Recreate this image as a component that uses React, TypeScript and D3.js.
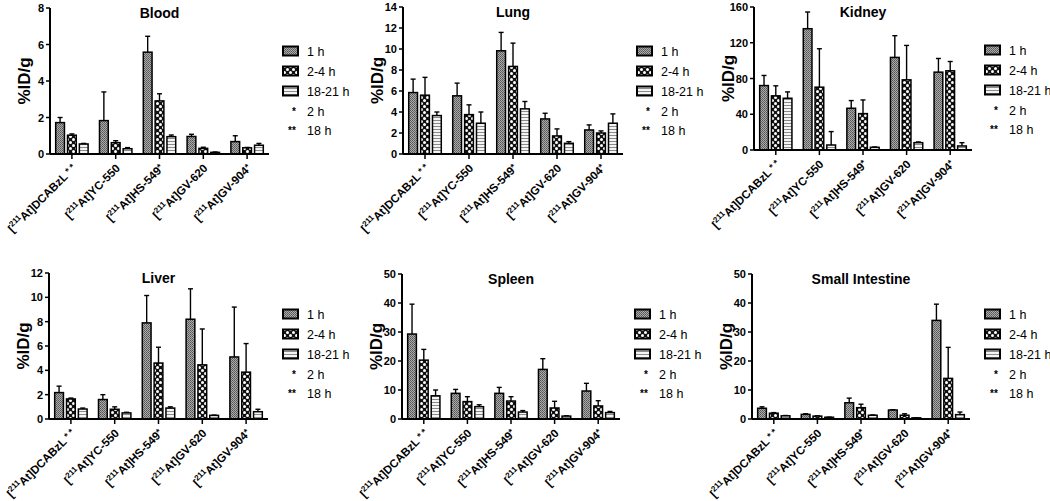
import React from "react";
import * as d3 from "d3";

// compounds on the x axis
const compounds = ["DCABzL", "YC-550", "HS-549", "GV-620", "GV-904"];
const marks = [" * *", "", "*", "", "*"];
const series = ["1 h", "2-4 h", "18-21 h"];

// %ID/g, mean and SD per series (order = compounds)
const bloodMean = [[1.72, 1.83, 5.58, 0.96, 0.68], [1.03, 0.62, 2.91, 0.31, 0.34], [0.55, 0.29, 0.95, 0.09, 0.48]];
const bloodSd = [[0.28, 1.57, 0.87, 0.12, 0.32], [0.07, 0.11, 0.39, 0.06, 0.02], [0.03, 0.06, 0.09, 0.02, 0.1]];
const lungMean = [[5.85, 5.54, 9.83, 3.34, 2.29], [5.6, 3.75, 8.34, 1.72, 2.0], [3.66, 2.93, 4.3, 1.02, 2.93]];
const lungSd = [[1.28, 1.21, 1.75, 0.54, 0.48], [1.7, 0.93, 2.22, 0.67, 0.2], [0.34, 1.07, 0.7, 0.16, 0.89]];
const kidneyMean = [[72.1, 135.7, 46.7, 103.6, 87.1], [60.6, 70.3, 40.7, 78.5, 88.6], [57.9, 5.6, 3.0, 8.2, 4.5]];
const kidneySd = [[11.3, 18.7, 8.6, 24.3, 15.3], [11.2, 43, 15.3, 38.5, 10.4], [7.1, 15, 0.4, 0.8, 3.7]];
const liverMean = [[2.17, 1.6, 7.9, 8.2, 5.1], [1.65, 0.8, 4.6, 4.45, 3.85], [0.82, 0.5, 0.9, 0.3, 0.6]];
const liverSd = [[0.53, 0.4, 2.25, 2.5, 4.1], [0.07, 0.2, 1.3, 2.95, 2.35], [0.08, 0.05, 0.1, 0.02, 0.2]];
const spleenMean = [[29.3, 8.85, 8.85, 17.1, 9.65], [20.3, 6.0, 6.2, 3.8, 4.5], [8.0, 4.25, 2.4, 1.0, 2.2]];
const spleenSd = [[10.3, 1.35, 2.05, 3.7, 2.65], [3.7, 1.7, 1.5, 2.3, 1.8], [2.0, 0.65, 0.5, 0.1, 0.4]];
const intestineMean = [[3.7, 1.6, 5.6, 3.1, 34.0], [2.0, 1.0, 3.9, 1.3, 14.0], [1.1, 0.6, 1.3, 0.4, 1.5]];
const intestineSd = [[0.5, 0.2, 1.6, 0.1, 5.6], [0.2, 0.1, 1.2, 0.5, 10.7], [0.1, 0.05, 0.1, 0.03, 0.9]];

const bloodTicks = [0, 2, 4, 6, 8];
const lungTicks = [0, 2, 4, 6, 8, 10, 12, 14];
const kidneyTicks = [0, 40, 80, 120, 160];
const liverTicks = [0, 2, 4, 6, 8, 10, 12];
const tenTicks = [0, 10, 20, 30, 40, 50];

const FONT = "'Liberation Sans', Arial, sans-serif";
const fills = ["url(#pat1)", "url(#pat2)", "url(#pat3)"];

const panels = [
  { title: "Blood", mean: bloodMean, sd: bloodSd, ticks: bloodTicks, x0: 50, x1: 269, top: 8, bottom: 154, lx: 283, ly: 51 },
  { title: "Lung", mean: lungMean, sd: lungSd, ticks: lungTicks, x0: 403, x1: 623, top: 7, bottom: 154, lx: 637, ly: 51 },
  { title: "Kidney", mean: kidneyMean, sd: kidneySd, ticks: kidneyTicks, x0: 754, x1: 972, top: 7, bottom: 150, lx: 985, ly: 50 },
  { title: "Liver", mean: liverMean, sd: liverSd, ticks: liverTicks, x0: 49, x1: 268, top: 273, bottom: 419, lx: 283, ly: 314 },
  { title: "Spleen", mean: spleenMean, sd: spleenSd, ticks: tenTicks, x0: 402, x1: 620, top: 274, bottom: 419, lx: 635, ly: 314 },
  { title: "Small Intestine", mean: intestineMean, sd: intestineSd, ticks: tenTicks, x0: 752, x1: 970, top: 274, bottom: 419, lx: 985, ly: 314 },
];

function Panel({ p }) {
  const y = d3.scaleLinear().domain([0, p.ticks[p.ticks.length - 1]]).range([p.bottom, p.top]);
  const x = d3.scaleBand().domain(compounds).range([p.x0, p.x1]).paddingInner(0.26).paddingOuter(0.13);
  const xs = d3.scaleBand().domain(series).range([0, x.bandwidth()]).paddingInner(0.26);
  const bw = xs.bandwidth();

  return (
    <g>
      <text x={(p.x0 + p.x1) / 2} y={p.top + 10} textAnchor="middle" fontFamily={FONT} fontWeight="bold" fontSize={14}>
        {p.title}
      </text>
      <text
        transform={`translate(${p.x0 - 20},${(p.top + p.bottom) / 2}) rotate(-90)`}
        textAnchor="middle" fontFamily={FONT} fontWeight="bold" fontSize={17}
      >
        %ID/g
      </text>
      {p.ticks.map((t) => (
        <g key={t}>
          <line x1={p.x0 - 4} x2={p.x0} y1={y(t)} y2={y(t)} stroke="#000" strokeWidth={1.5} />
          <text x={p.x0 - 6} y={y(t) + 4} textAnchor="end" fontFamily={FONT} fontWeight="bold" fontSize={11}>{t}</text>
        </g>
      ))}
      {series.map((s, si) =>
        compounds.map((c, ci) => {
          const v = p.mean[si][ci];
          const e = p.sd[si][ci];
          const bx = x(c) + xs(s);
          const cx = bx + bw / 2;
          return (
            <g key={s + c}>
              <line x1={cx} x2={cx} y1={y(v)} y2={y(v + e)} stroke="#000" strokeWidth={1.4} />
              <line x1={cx - 2.5} x2={cx + 2.5} y1={y(v + e)} y2={y(v + e)} stroke="#000" strokeWidth={1.4} />
              <rect x={bx} y={y(v)} width={bw} height={p.bottom - y(v)} fill={fills[si]} stroke="#000" strokeWidth={1.5} />
            </g>
          );
        })
      )}
      <line x1={p.x0} x2={p.x0} y1={p.top} y2={p.bottom} stroke="#000" strokeWidth={2} />
      <line x1={p.x0} x2={p.x1} y1={p.bottom} y2={p.bottom} stroke="#000" strokeWidth={2} />
      {compounds.map((c, ci) => {
        const cx = x(c) + x.bandwidth() / 2;
        return (
          <g key={c}>
            <line x1={cx} x2={cx} y1={p.bottom} y2={p.bottom + 5} stroke="#000" strokeWidth={1.5} />
            <text
              transform={`translate(${cx + 5},${p.bottom + 15}) rotate(-45)`}
              textAnchor="end" fontFamily={FONT} fontWeight="bold" fontSize={11.5}
            >
              [<tspan fontSize={8} dy={-4.5}>211</tspan><tspan dy={4.5}>At]{c}</tspan>
              {marks[ci] && <tspan fontSize={9} dy={-2}>{marks[ci]}</tspan>}
            </text>
          </g>
        );
      })}
      {series.map((s, si) => (
        <g key={s} transform={`translate(${p.lx},${p.ly + si * 20})`}>
          <rect x={0} y={-4.5} width={15} height={9} fill={fills[si]} stroke="#000" strokeWidth={2} />
          <text x={24} y={4.5} fontFamily={FONT} fontSize={12.5}>{s}</text>
        </g>
      ))}
      <g transform={`translate(${p.lx},${p.ly + 60})`}>
        <text x={9} y={4} fontFamily={FONT} fontSize={10} fontWeight="bold">*</text>
        <text x={24} y={4.5} fontFamily={FONT} fontSize={12.5}>2 h</text>
      </g>
      <g transform={`translate(${p.lx},${p.ly + 79})`}>
        <text x={5} y={4} fontFamily={FONT} fontSize={10} fontWeight="bold">**</text>
        <text x={24} y={4.5} fontFamily={FONT} fontSize={12.5}>18 h</text>
      </g>
    </g>
  );
}

export default function App() {
  return (
    <svg width={1050} height={501} style={{ position: "absolute", left: 0, top: 0, background: "#fff" }}>
      <defs>
        <pattern id="pat1" width={2} height={2} patternUnits="userSpaceOnUse">
          <rect width={2} height={2} fill="#ababab" />
          <rect width={1} height={1} fill="#555" />
          <rect x={1} y={1} width={1} height={1} fill="#666" />
        </pattern>
        <pattern id="pat2" width={6} height={6} patternUnits="userSpaceOnUse">
          <rect width={6} height={6} fill="#111" />
          <circle cx={1.5} cy={1.5} r={1.5} fill="#fff" />
          <circle cx={4.5} cy={4.5} r={1.5} fill="#fff" />
        </pattern>
        <pattern id="pat3" width={3} height={3} patternUnits="userSpaceOnUse">
          <rect width={3} height={3} fill="#f4f4f4" />
          <rect y={0} width={3} height={1} fill="#8a8a8a" />
        </pattern>
      </defs>
      {panels.map((p) => (
        <Panel key={p.title} p={p} />
      ))}
    </svg>
  );
}
